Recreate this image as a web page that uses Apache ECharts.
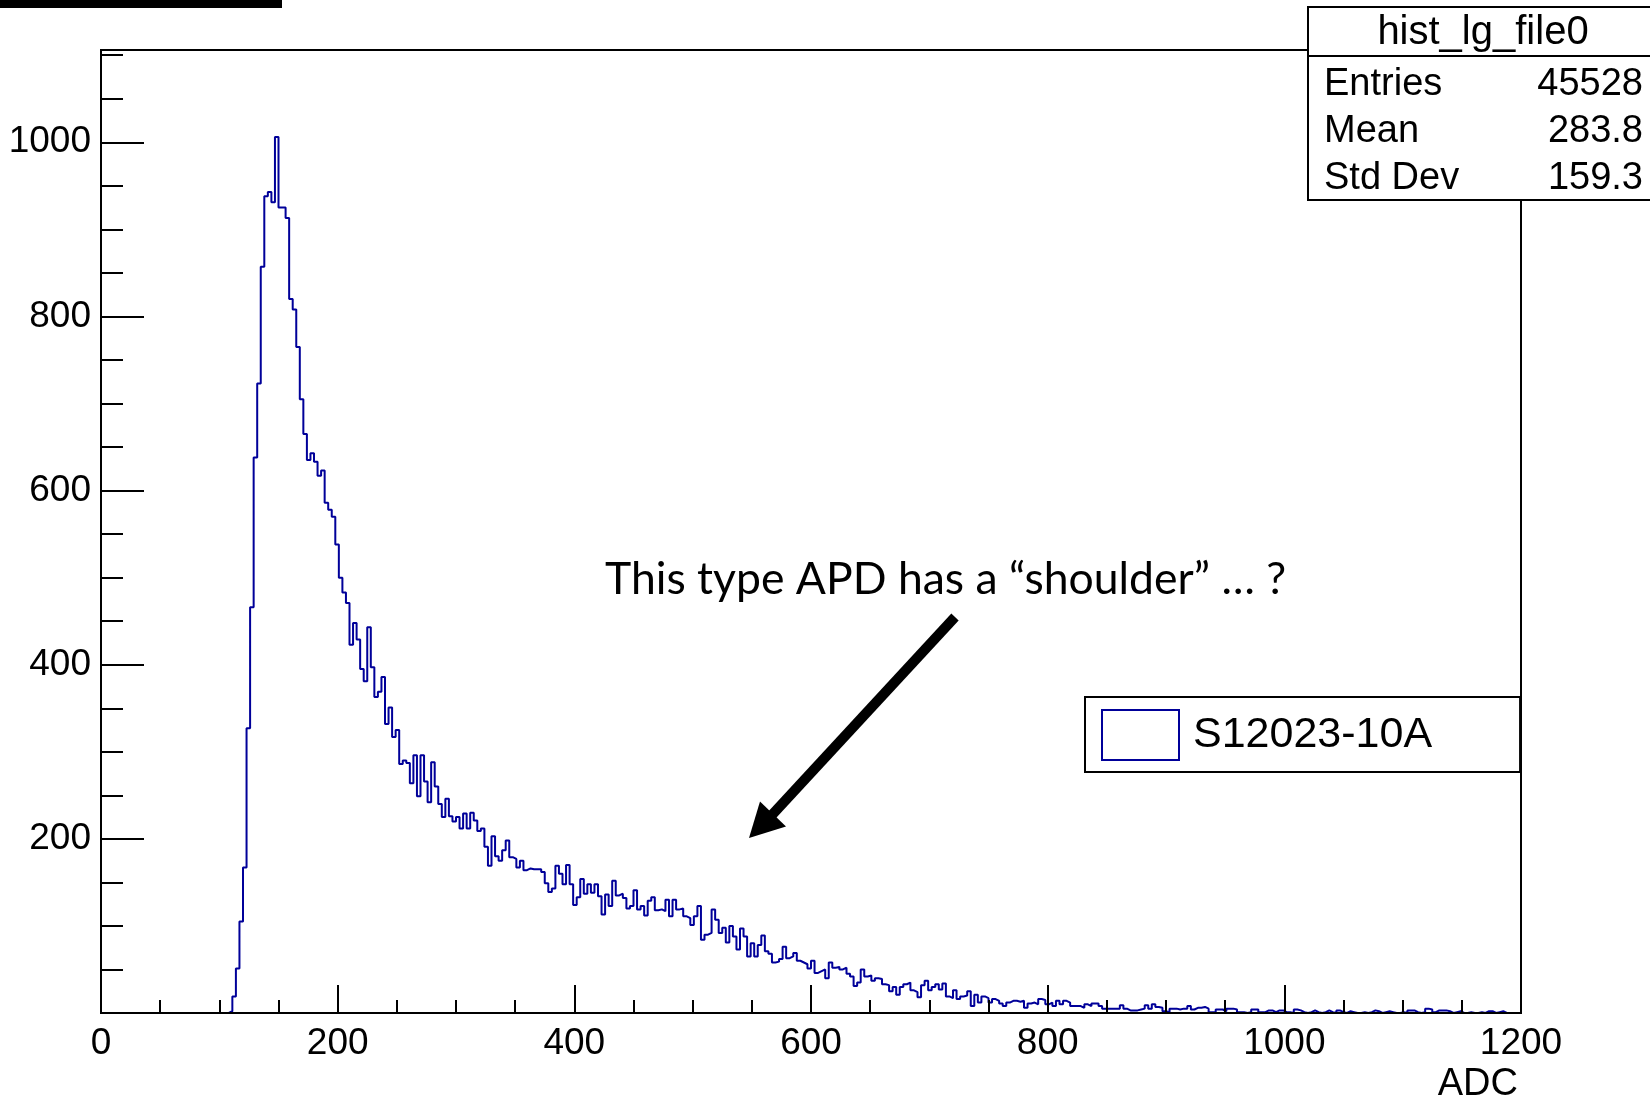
<!DOCTYPE html>
<html>
<head>
<meta charset="utf-8">
<script src="https://cdn.jsdelivr.net/npm/echarts@6/dist/echarts.min.js"></script>
<style>
  html, body { margin: 0; padding: 0; background: #fff; }
  #main { width: 1650px; height: 1099px; }
</style>
</head>
<body>
<div id="main"></div>
<script>
// histogram: 400 bins of 3 ADC from 0 to 1200
const xMin = 0;
const binWidth = 3;
const counts = [
  0, 0, 0, 0, 0, 0, 0, 0, 0, 0, 0, 0, 0, 0, 0, 0, 0, 0, 0, 0,
  0, 0, 0, 0, 0, 0, 0, 0, 0, 0, 0, 0, 0, 0, 0, 0, 2, 19, 51, 105,
  167, 327, 466, 638, 723, 857, 938, 943, 931, 1006, 925, 925, 913, 820, 808, 765, 705, 665, 635, 643,
  633, 617, 623, 586, 578, 570, 538, 500, 483, 471, 423, 448, 429, 395, 381, 443, 397, 363, 369, 386,
  332, 351, 317, 325, 286, 290, 287, 264, 296, 249, 296, 266, 242, 288, 260, 240, 225, 246, 226, 220,
  225, 212, 229, 212, 230, 221, 209, 212, 191, 169, 203, 180, 175, 187, 198, 179, 177, 167, 175, 164,
  166, 165, 165, 165, 162, 149, 139, 143, 169, 160, 148, 170, 148, 124, 133, 154, 137, 148, 138, 148,
  134, 113, 136, 123, 152, 135, 137, 132, 120, 123, 141, 119, 123, 112, 129, 133, 118, 119, 117, 130,
  111, 130, 119, 120, 111, 109, 101, 111, 123, 84, 90, 92, 119, 107, 92, 98, 81, 100, 88, 73,
  97, 88, 65, 80, 65, 78, 89, 71, 68, 58, 59, 62, 76, 63, 65, 69, 60, 58, 56, 51,
  60, 46, 48, 50, 40, 58, 52, 53, 50, 52, 45, 42, 31, 35, 50, 42, 43, 37, 40, 39,
  33, 32, 25, 30, 21, 30, 33, 35, 26, 24, 18, 32, 37, 26, 30, 33, 27, 34, 19, 17,
  26, 16, 19, 20, 25, 8, 21, 12, 19, 17, 12, 16, 14, 11, 8, 12, 14, 14, 13, 14,
  6, 11, 12, 10, 16, 15, 10, 12, 8, 14, 10, 14, 12, 8, 8, 8, 6, 10, 8, 11,
  11, 8, 5, 5, 5, 5, 5, 9, 5, 3, 3, 3, 4, 5, 9, 5, 10, 7, 6, 2,
  1, 5, 5, 4, 5, 5, 8, 4, 6, 6, 7, 5, 1, 1, 4, 4, 2, 5, 5, 4,
  1, 1, 0, 1, 4, 4, 1, 1, 3, 3, 1, 3, 3, 1, 1, 0, 4, 3, 1, 0,
  1, 3, 1, 0, 1, 3, 1, 0, 3, 1, 0, 2, 1, 0, 0, 1, 0, 1, 3, 2,
  0, 1, 2, 1, 0, 0, 1, 0, 3, 3, 1, 0, 1, 5, 4, 1, 3, 3, 3, 2,
  0, 1, 2, 0, 0, 1, 0, 0, 1, 0, 2, 2, 0, 1, 2, 0, 0, 0, 0, 0
];
const seriesName = 'S12023-10A';
const statsTitle = 'hist_lg_file0';
const statsLabels = ['Entries', 'Mean', 'Std Dev'];
const statsValues = ['45528', '283.8', '159.3'];
const note = 'This type APD has a \u201cshoulder\u201d \u2026 ?';

const xMax = xMin + counts.length * binWidth;
const yMax = 1106;

// step line points at the low edge of each bin
const points = counts.map((c, i) => [xMin + i * binWidth, c]);
points.push([xMax, counts[counts.length - 1]]);

const font = '"Liberation Sans", Arial, Helvetica, sans-serif';
const black = { color: '#000', width: 2 };

const chart = echarts.init(document.getElementById('main'), null, { renderer: 'canvas' });

const statsTexts = [];
statsLabels.forEach((label, i) => {
  const y = 85 + 47 * i;
  statsTexts.push({
    type: 'text', x: 1324, y: y, z: 11,
    style: { text: label, fontSize: 38, fontFamily: font, fill: '#000', align: 'left', verticalAlign: 'middle' }
  });
  statsTexts.push({
    type: 'text', x: 1643, y: y, z: 11,
    style: { text: statsValues[i], fontSize: 38, fontFamily: font, fill: '#000', align: 'right', verticalAlign: 'middle' }
  });
});

chart.setOption({
  animation: false,
  backgroundColor: '#fff',
  grid: {
    left: 101, top: 50, right: 129, bottom: 86,
    outerBoundsMode: 'none',
    show: true, borderColor: '#000', borderWidth: 2, backgroundColor: 'transparent'
  },
  xAxis: {
    type: 'value', min: xMin, max: xMax, interval: 200, z: 5,
    axisLine: { show: true, onZero: false, lineStyle: black },
    axisTick: { inside: true, length: 28, lineStyle: black },
    minorTick: { show: true, splitNumber: 4, length: 13, lineStyle: black },
    splitLine: { show: false },
    axisLabel: { fontSize: 37, color: '#000', fontFamily: font, margin: 12, formatter: v => String(v) },
    name: 'ADC', nameLocation: 'end', nameGap: -3,
    nameTextStyle: { fontSize: 38, color: '#000', fontFamily: font, align: 'right', verticalAlign: 'top', padding: [53, 0, 0, 0] }
  },
  yAxis: [
    {
      type: 'value', min: 0, max: yMax, interval: 50, position: 'left', z: 5,
      axisLine: { show: true, onZero: false, lineStyle: black },
      axisTick: { inside: true, length: 22, lineStyle: black },
      splitLine: { show: false },
      axisLabel: {
        fontSize: 37, color: '#000', fontFamily: font, margin: 10, showMaxLabel: false,
        padding: [5, 0, 0, 0],
        formatter: v => (v > 0 && v % 200 === 0) ? String(v) : ''
      }
    },
    {
      type: 'value', min: 0, max: yMax, interval: 200, position: 'left', z: 5,
      axisLine: { show: false },
      axisTick: { inside: true, length: 43, lineStyle: black },
      axisLabel: { show: false },
      splitLine: { show: false }
    }
  ],
  legend: {
    left: 1085, top: 697, orient: 'vertical',
    padding: [12, 88, 11, 16],
    backgroundColor: '#fff', borderColor: '#000', borderWidth: 2, borderRadius: 0,
    itemWidth: 77, itemHeight: 50, icon: 'rect', selectedMode: false,
    itemStyle: { color: '#fff', borderColor: '#000099', borderWidth: 2 },
    textStyle: { fontSize: 43, color: '#000', fontFamily: font, padding: [3, 0, 0, 9] },
    data: [seriesName]
  },
  series: [{
    name: seriesName, type: 'line', step: 'end', data: points,
    symbol: 'none', showSymbol: false, silent: true, z: 2,
    lineStyle: { color: '#000099', width: 2 },
    itemStyle: { color: '#000099' }
  }],
  graphic: [
    { type: 'rect', shape: { x: 0, y: 0, width: 282, height: 8 }, style: { fill: '#000' } },
    { type: 'rect', z: 10, shape: { x: 1308, y: 7, width: 360, height: 193 }, style: { fill: '#fff', stroke: '#000', lineWidth: 2 } },
    { type: 'line', z: 10, shape: { x1: 1308, y1: 56, x2: 1650, y2: 56 }, style: { stroke: '#000', lineWidth: 2 } },
    {
      type: 'text', x: 1483, y: 32.5, z: 11,
      style: { text: statsTitle, fontSize: 40, fontFamily: font, fill: '#000', align: 'center', verticalAlign: 'middle' }
    },
    ...statsTexts,
    {
      type: 'text', x: 605, y: 580, z: 11,
      style: { text: note, fontSize: 44.5, fontFamily: 'Lato, "Open Sans", sans-serif', fill: '#000', align: 'left', verticalAlign: 'middle' }
    },
    // arrow pointing at the shoulder
    { type: 'line', z: 11, shape: { x1: 955, y1: 617, x2: 771, y2: 816 }, style: { stroke: '#000', lineWidth: 10 } },
    {
      type: 'polygon', z: 11,
      shape: { points: [[749, 838], [760, 801.5], [786, 826.5]] },
      style: { fill: '#000' }
    }
  ]
});
</script>
</body>
</html>
